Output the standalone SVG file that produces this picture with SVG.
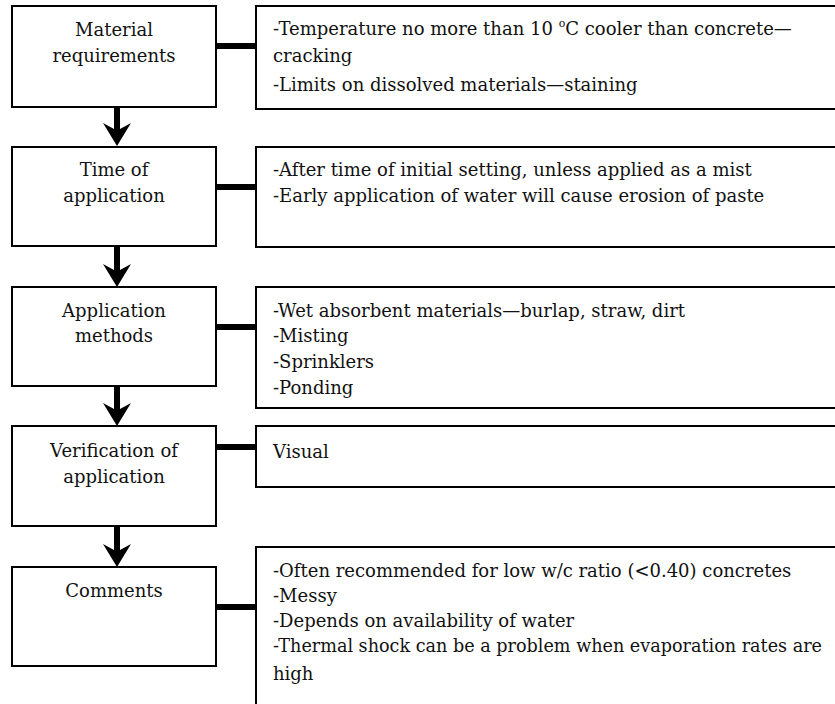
<svg xmlns="http://www.w3.org/2000/svg" width="835" height="704" viewBox="0 0 835 704" font-family="DejaVu Serif, serif" font-size="18">
<style>
.box{fill:#fff;stroke:#000;stroke-width:2}
.t{fill:#111}
.c{text-anchor:middle}
.bar{stroke:#000;stroke-width:6}
.arr{fill:#000}
</style>
<defs>
<path id="arrow" d="M-3,-40 L3,-40 L3,-17 L14,-23 L0,0 L-14,-23 L-3,-17 Z"/>
</defs>
<rect width="835" height="704" fill="#fff"/>
<g id="connectors">
<line class="bar" x1="216" y1="46" x2="256" y2="46"/>
<line class="bar" x1="216" y1="187" x2="256" y2="187"/>
<line class="bar" x1="216" y1="327" x2="256" y2="327"/>
<line class="bar" x1="216" y1="447" x2="256" y2="447"/>
<line class="bar" x1="216" y1="607" x2="256" y2="607"/>
<use href="#arrow" class="arr" x="117" y="146"/>
<use href="#arrow" class="arr" x="117" y="287"/>
<use href="#arrow" class="arr" x="117" y="426"/>
<use href="#arrow" class="arr" x="117" y="567"/>
</g>
<g id="n1">
<rect class="box" x="12" y="6" width="204" height="101"/>
<text class="t c" x="114" y="36">Material</text>
<text class="t c" x="114" y="62">requirements</text>
</g>
<g id="d1">
<rect class="box" x="256" y="6" width="620" height="103"/>
<text class="t" x="273" y="35">-Temperature no more than 10 <tspan font-size="11" dy="-8">o</tspan><tspan dy="8">C cooler than concrete—</tspan></text>
<text class="t" x="273" y="62">cracking</text>
<text class="t" x="273" y="91">-Limits on dissolved materials—staining</text>
</g>
<g id="n2">
<rect class="box" x="12" y="147" width="204" height="99"/>
<text class="t c" x="114" y="176">Time of</text>
<text class="t c" x="114" y="202">application</text>
</g>
<g id="d2">
<rect class="box" x="256" y="147" width="620" height="100"/>
<text class="t" x="273" y="176">-After time of initial setting, unless applied as a mist</text>
<text class="t" x="273" y="202">-Early application of water will cause erosion of paste</text>
</g>
<g id="n3">
<rect class="box" x="12" y="287" width="204" height="99"/>
<text class="t c" x="114" y="317">Application</text>
<text class="t c" x="114" y="342">methods</text>
</g>
<g id="d3">
<rect class="box" x="256" y="287" width="620" height="121"/>
<text class="t" x="273" y="317">-Wet absorbent materials—burlap, straw, dirt</text>
<text class="t" x="273" y="342">-Misting</text>
<text class="t" x="273" y="368">-Sprinklers</text>
<text class="t" x="273" y="394">-Ponding</text>
</g>
<g id="n4">
<rect class="box" x="12" y="426" width="204" height="100"/>
<text class="t c" x="114" y="457">Verification of</text>
<text class="t c" x="114" y="483">application</text>
</g>
<g id="d4">
<rect class="box" x="256" y="426" width="620" height="61"/>
<text class="t" x="273" y="458">Visual</text>
</g>
<g id="n5">
<rect class="box" x="12" y="567" width="204" height="99"/>
<text class="t c" x="114" y="597">Comments</text>
</g>
<g id="d5">
<rect class="box" x="256" y="547" width="620" height="200"/>
<text class="t" x="273" y="577">-Often recommended for low w/c ratio (&lt;0.40) concretes</text>
<text class="t" x="273" y="602">-Messy</text>
<text class="t" x="273" y="627">-Depends on availability of water</text>
<text class="t" x="273" y="652" textLength="549" lengthAdjust="spacingAndGlyphs">-Thermal shock can be a problem when evaporation rates are</text>
<text class="t" x="273" y="680">high</text>
</g>
</svg>
